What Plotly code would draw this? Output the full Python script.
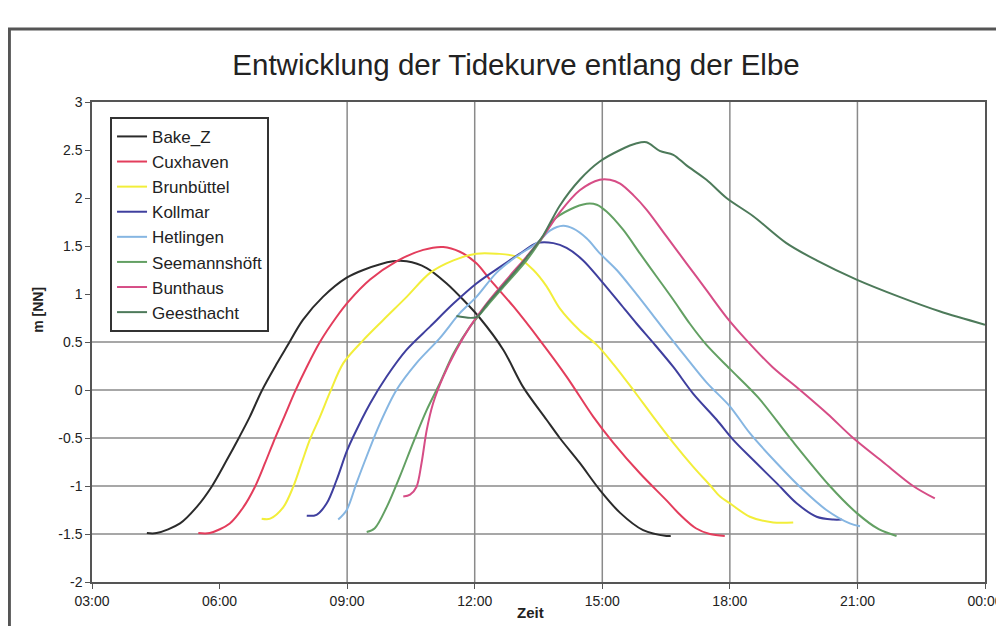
import plotly.graph_objects as go

# ---------------- data (time in hours since 00:00, level in m NN) ----------------
SERIES_NAMES = ["Bake_Z", "Cuxhaven", "Brunbüttel", "Kollmar", "Hetlingen",
                "Seemannshöft", "Bunthaus", "Geesthacht"]

BAKE_Z_T = [4.29, 4.52, 5.07, 5.46, 5.81, 6.17, 6.44, 6.71, 6.99, 7.34, 7.58, 7.96, 8.43, 8.99,
            9.38, 10.08, 10.40, 10.87, 11.34, 11.73, 12.12, 12.67, 13.14, 13.69, 14.00, 14.47,
            14.94, 15.42, 15.96, 16.51, 16.61]
BAKE_Z_V = [-1.49, -1.49, -1.39, -1.22, -1.01, -0.73, -0.51, -0.28, -0.01, 0.27, 0.45, 0.73, 0.97, 1.17,
            1.25, 1.34, 1.34, 1.27, 1.11, 0.94, 0.75, 0.42, 0.03, -0.31, -0.50, -0.76,
            -1.04, -1.28, -1.46, -1.52, -1.52]

CUXHAVEN_T = [5.50, 5.77, 6.24, 6.56, 6.83, 7.07, 7.26, 7.54, 7.77, 8.05, 8.36, 8.75, 9.03, 9.54,
              10.16, 10.79, 11.26, 11.65, 12.04, 12.36, 12.91, 13.53, 14.16, 14.79, 15.26, 15.89,
              16.51, 16.83, 17.20, 17.53, 17.88]
CUXHAVEN_V = [-1.49, -1.49, -1.39, -1.22, -1.01, -0.76, -0.55, -0.26, -0.02, 0.24, 0.50, 0.76, 0.92, 1.15,
              1.34, 1.46, 1.49, 1.44, 1.32, 1.15, 0.87, 0.52, 0.14, -0.28, -0.55, -0.87,
              -1.15, -1.30, -1.44, -1.50, -1.52]

BRUNBUETTEL_T = [6.99, 7.19, 7.50, 7.73, 7.93, 8.13, 8.36, 8.60, 8.91, 9.38, 9.85, 10.40, 10.95,
                 11.50, 12.04, 12.51, 12.98, 13.38, 13.69, 14.00, 14.47, 14.87, 15.26, 15.73,
                 16.20, 16.67, 17.14, 17.53, 17.77, 18.00, 18.47, 19.02, 19.49]
BRUNBUETTEL_V = [-1.34, -1.34, -1.22, -1.01, -0.76, -0.51, -0.28, -0.02, 0.28, 0.52, 0.73, 0.97, 1.22,
                 1.35, 1.42, 1.42, 1.39, 1.25, 1.08, 0.85, 0.62, 0.47, 0.27, 0.00,
                 -0.28, -0.55, -0.80, -0.99, -1.11, -1.18, -1.32, -1.38, -1.38]

KOLLMAR_T = [8.05, 8.28, 8.52, 8.75, 8.99, 9.14, 9.54, 9.93, 10.40, 10.95, 11.50, 12.04, 12.59,
             13.06, 13.46, 13.85, 14.16, 14.55, 14.95, 15.42, 15.81, 16.20, 16.67, 17.14, 17.69,
             18.08, 18.55, 19.10, 19.57, 20.04, 20.43, 20.63]
KOLLMAR_V = [-1.31, -1.30, -1.18, -0.94, -0.64, -0.49, -0.14, 0.14, 0.42, 0.66, 0.90, 1.11, 1.28,
             1.42, 1.53, 1.53, 1.48, 1.35, 1.15, 0.90, 0.69, 0.49, 0.24, -0.04, -0.31,
             -0.52, -0.73, -0.97, -1.18, -1.32, -1.35, -1.35]

HETLINGEN_T = [8.79, 8.99, 9.22, 9.46, 9.77, 10.16, 10.63, 11.18, 11.65, 12.04, 12.51, 12.98, 13.46,
               13.77, 14.08, 14.32, 14.63, 14.95, 15.34, 15.73, 16.12, 16.59, 16.90, 17.45, 18.00,
               18.47, 19.10, 19.72, 20.27, 20.82, 21.06]
HETLINGEN_V = [-1.35, -1.25, -0.97, -0.69, -0.35, 0.00, 0.28, 0.54, 0.80, 0.97, 1.22, 1.39, 1.53,
               1.66, 1.71, 1.68, 1.58, 1.42, 1.25, 1.04, 0.82, 0.55, 0.38, 0.08, -0.17,
               -0.45, -0.76, -1.04, -1.25, -1.39, -1.42]

SEEMANNSHOEFT_T = [9.46, 9.65, 9.93, 10.24, 10.55, 10.87, 11.18, 11.50, 11.89, 12.28, 12.75, 13.22,
                   13.61, 13.85, 14.24, 14.63, 14.87, 15.10, 15.49, 15.89, 16.28, 16.67, 17.06,
                   17.45, 18.00, 18.67, 19.45, 20.35, 20.98, 21.50, 21.92]
SEEMANNSHOEFT_V = [-1.48, -1.44, -1.22, -0.90, -0.55, -0.21, 0.07, 0.38, 0.66, 0.87, 1.11, 1.35,
                   1.60, 1.77, 1.88, 1.94, 1.93, 1.86, 1.67, 1.42, 1.18, 0.94, 0.69,
                   0.47, 0.22, -0.08, -0.52, -1.00, -1.28, -1.45, -1.52]

BUNTHAUS_T = [10.32, 10.48, 10.63, 10.75, 10.87, 11.02, 11.26, 11.57, 11.89, 12.28, 12.75, 13.22,
              13.61, 14.00, 14.47, 14.94, 15.18, 15.42, 15.73, 16.04, 16.51, 16.98, 17.45, 17.92,
              18.39, 19.00, 19.65, 20.30, 20.90, 21.60, 22.31, 22.82]
BUNTHAUS_V = [-1.11, -1.09, -1.01, -0.76, -0.42, -0.14, 0.14, 0.42, 0.66, 0.90, 1.15, 1.39,
              1.60, 1.85, 2.08, 2.19, 2.19, 2.15, 2.03, 1.88, 1.60, 1.32, 1.04, 0.76,
              0.52, 0.24, 0.00, -0.25, -0.50, -0.75, -1.00, -1.13]

GEESTHACHT_T = [11.57, 12.04, 12.28, 12.75, 13.22, 13.61, 14.00, 14.47, 14.94, 15.42, 15.81, 16.04,
                16.35, 16.67, 16.98, 17.45, 17.92, 18.55, 19.33, 20.04, 20.98, 21.99, 22.93, 24.00]
GEESTHACHT_V = [0.77, 0.76, 0.89, 1.13, 1.38, 1.61, 1.92, 2.19, 2.38, 2.50, 2.57, 2.58,
                2.49, 2.45, 2.34, 2.19, 2.00, 1.81, 1.53, 1.35, 1.15, 0.97, 0.82, 0.68]

SERIES_T = [BAKE_Z_T, CUXHAVEN_T, BRUNBUETTEL_T, KOLLMAR_T, HETLINGEN_T,
            SEEMANNSHOEFT_T, BUNTHAUS_T, GEESTHACHT_T]
SERIES_V = [BAKE_Z_V, CUXHAVEN_V, BRUNBUETTEL_V, KOLLMAR_V, HETLINGEN_V,
            SEEMANNSHOEFT_V, BUNTHAUS_V, GEESTHACHT_V]

X_TICK_VALS = [3, 6, 9, 12, 15, 18, 21, 24]
X_TICK_TEXT = ["03:00", "06:00", "09:00", "12:00", "15:00", "18:00", "21:00", "00:00"]
Y_TICK_VALS = [3, 2.5, 2, 1.5, 1, 0.5, 0, -0.5, -1, -1.5, -2]
Y_TICK_TEXT = ["3", "2.5", "2", "1.5", "1", "0.5", "0", "-0.5", "-1", "-1.5", "-2"]

# gridlines that are visible in the reference
GRID_X = [9, 12, 15, 18, 21]
GRID_Y = [0.5, 0, -0.5, -1, -1.5]

# ---------------- styling ----------------
COLORS = ["#2b2b2b", "#e33d5c", "#f2ee3a", "#3f3f9e", "#86b6e2",
          "#63a063", "#d64d86", "#4d7a5a"]
FONT = "Liberation Sans, Arial, sans-serif"

fig = go.Figure()
for name, t, v, c in zip(SERIES_NAMES, SERIES_T, SERIES_V, COLORS):
    fig.add_trace(go.Scatter(x=t, y=v, name=name, mode="lines",
                             line=dict(color=c, width=2, shape="spline", smoothing=0.9)))

shapes = []
for gx in GRID_X:
    shapes.append(dict(type="line", xref="x", yref="y", x0=gx, x1=gx, y0=-2, y1=3,
                       line=dict(color="#8a8a8a", width=1.5), layer="below"))
for gy in GRID_Y:
    shapes.append(dict(type="line", xref="x", yref="y", x0=3, x1=24, y0=gy, y1=gy,
                       line=dict(color="#8a8a8a", width=1.5), layer="below"))
# outer chart frame
shapes.append(dict(type="rect", xref="paper", yref="paper", x0=-0.0925, x1=1.06, y0=-0.25, y1=1.152,
                   line=dict(color="#555555", width=3), fillcolor="rgba(0,0,0,0)"))

fig.update_layout(
    width=1004, height=626,
    margin=dict(l=84, r=27, t=94, b=52, autoexpand=False),
    paper_bgcolor="white", plot_bgcolor="white",
    font=dict(family=FONT, color="#222222"),
    title=dict(text="Entwicklung der Tidekurve entlang der Elbe", x=0.506, xanchor="center",
               y=1 - 57 / 626, yanchor="middle", xref="container", yref="container",
               font=dict(size=29.5, color="#222222", family=FONT)),
    showlegend=True,
    legend=dict(x=0.0202, y=0.969, xanchor="left", yanchor="top",
                bordercolor="#333333", borderwidth=2, bgcolor="white",
                font=dict(size=17, color="#222222", family=FONT), tracegroupgap=0),
    shapes=shapes,
    xaxis=dict(range=[3, 24], tickvals=X_TICK_VALS, ticktext=X_TICK_TEXT, automargin=False,
               showgrid=False, zeroline=False, showline=True, linecolor="#555555", linewidth=1.5,
               mirror=True, ticks="outside", ticklen=5, tickcolor="#555555",
               tickfont=dict(size=14, color="#222222")),
    yaxis=dict(range=[-2, 3], tickvals=Y_TICK_VALS, ticktext=Y_TICK_TEXT, automargin=False,
               showgrid=False, zeroline=False, showline=True, linecolor="#555555", linewidth=1.5,
               mirror=True, ticks="outside", ticklen=5, tickcolor="#555555",
               tickfont=dict(size=14, color="#222222")),
    annotations=[
        dict(text="<b>m [NN]</b>", xref="paper", yref="paper", x=-0.0605, y=0.567,
             xanchor="center", yanchor="middle",
             showarrow=False, textangle=-90, font=dict(size=14, color="#222222")),
        dict(text="<b>Zeit</b>", xref="paper", yref="paper", x=0.4905, y=-0.0625,
             xanchor="center", yanchor="middle",
             showarrow=False, font=dict(size=15, color="#222222")),
    ],
)

fig.write_html("out.html")
